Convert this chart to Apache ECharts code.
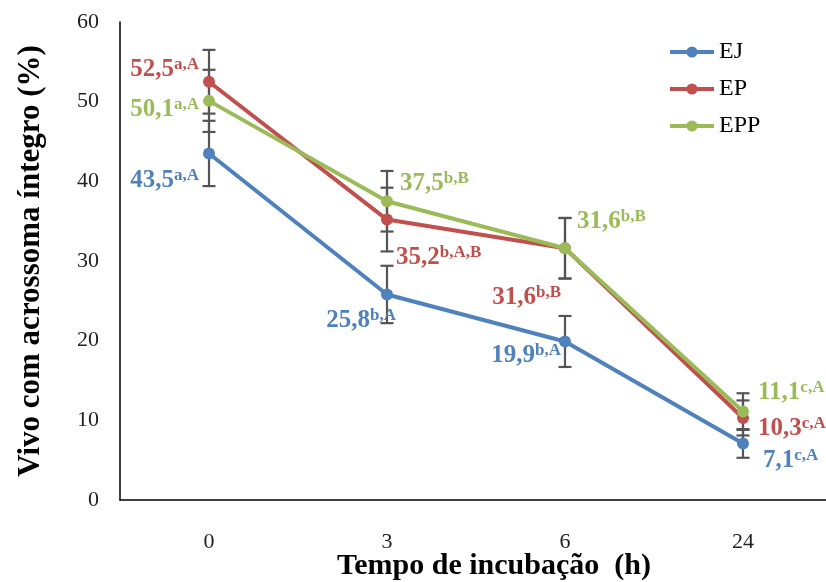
<!DOCTYPE html>
<html>
<head>
<meta charset="utf-8">
<script src="https://cdn.jsdelivr.net/npm/echarts@6/dist/echarts.min.js"></script>
<style>html,body{margin:0;padding:0;background:#fff}#c{width:826px;height:582px}</style>
</head>
<body>
<div id="c"></div>
<script>
var categories = ['0', '3', '6', '24'];
var yTicks = [0, 10, 20, 30, 40, 50, 60];
var ejValues = [43.5, 25.8, 19.9, 7.1];
var ejErrors = [4.1, 3.6, 3.2, 1.8];
var ejSup = ['a,A', 'b,A', 'b,A', 'c,A'];
var epValues = [52.5, 35.2, 31.6, 10.3];
var epErrors = [4.0, 4.0, 3.8, 2.2];
var epSup = ['a,A', 'b,A,B', 'b,B', 'c,A'];
var eppValues = [50.1, 37.5, 31.6, 11.1];
var eppErrors = [3.9, 3.8, 3.8, 2.3];
var eppSup = ['a,A', 'b,B', 'b,B', 'c,A'];

var FONT = '"Liberation Serif", "Times New Roman", serif';
var colors = { EJ: '#4F81BD', EP: '#C0504D', EPP: '#9BBB59' };

// label placement (layout only): [position, dx, dy]
var labelPlace = {
  EJ:  [['left', -1, 27], ['left', 18, 26], ['left', 5, 14], ['right', 11, 17]],
  EP:  [['left', -1, -12], ['right', 0, 38], ['left', 5, 49], ['right', 6, 11]],
  EPP: [['left', -1, 9], ['right', 4, -18], ['right', 3, -27], ['right', 6, -19]]
};

function fmt(v) { return v.toFixed(1).replace('.', ','); }

function makeData(name, values, sups) {
  return values.map(function (v, i) {
    var l = labelPlace[name][i];
    return {
      value: v,
      label: {
        show: true,
        position: l[0],
        distance: 3,
        formatter: '{v|' + fmt(v) + '}{s|' + sups[i] + '}',
        rich: {
          v: { fontFamily: FONT, fontSize: 25, fontWeight: 'bold', color: colors[name], lineHeight: 27 },
          s: { fontFamily: FONT, fontSize: 17, fontWeight: 'bold', color: colors[name], verticalAlign: 'top', lineHeight: 27 }
        }
      }
    };
  });
}

function errorSeries(name, values, errors) {
  return {
    type: 'custom',
    name: name + '_err',
    z: 1,
    silent: true,
    data: values.map(function (v, i) { return [i, v - errors[i], v + errors[i]]; }),
    encode: { x: 0, y: [1, 2] },
    renderItem: function (params, api) {
      var x = api.value(0);
      var lo = api.coord([x, api.value(1)]);
      var hi = api.coord([x, api.value(2)]);
      var w = 6.5;
      var style = { stroke: '#555555', lineWidth: 2.2, fill: null };
      return {
        type: 'group',
        children: [
          { type: 'line', shape: { x1: lo[0], y1: lo[1], x2: hi[0], y2: hi[1] }, style: style },
          { type: 'line', shape: { x1: lo[0] - w, y1: lo[1], x2: lo[0] + w, y2: lo[1] }, style: style },
          { type: 'line', shape: { x1: hi[0] - w, y1: hi[1], x2: hi[0] + w, y2: hi[1] }, style: style }
        ]
      };
    }
  };
}

function lineSeries(name, values, sups, z) {
  return {
    type: 'line',
    name: name,
    z: z,
    data: makeData(name, values, sups),
    symbol: 'circle',
    symbolSize: 12,
    lineStyle: { width: 4, color: colors[name] },
    itemStyle: { color: colors[name] },
    labelLayout: function (p) {
      var l = labelPlace[name][p.dataIndex];
      return { dx: l[1], dy: l[2], hideOverlap: false };
    }
  };
}

var chart = echarts.init(document.getElementById('c'), null, { renderer: 'canvas' });
chart.setOption({
  animation: false,
  backgroundColor: '#fff',
  grid: { left: 120, right: -6, top: 22, bottom: 82, containLabel: false, outerBoundsMode: 'none' },
  legend: {
    data: ['EJ', 'EP', 'EPP'],
    orient: 'vertical',
    left: 663,
    top: 35,
    itemWidth: 44,
    itemHeight: 14,
    itemGap: 13,
    lineStyle: { width: 4 },
    textStyle: { fontFamily: FONT, fontSize: 24, color: '#000' }
  },
  xAxis: {
    type: 'category',
    data: categories,
    boundaryGap: true,
    axisLine: { lineStyle: { color: '#000', width: 1.5 } },
    axisTick: { show: false },
    axisLabel: { fontFamily: FONT, fontSize: 22, color: '#222', margin: 31 },
    name: 'Tempo de incubação  (h)',
    nameLocation: 'middle',
    nameGap: 51,
    nameMoveOverlap: false,
    nameTextStyle: { fontFamily: FONT, fontSize: 30, fontWeight: 'bold', color: '#000', padding: [0, 0, 0, 36] }
  },
  yAxis: {
    type: 'value',
    min: 0,
    max: 60,
    interval: 10,
    splitLine: { show: false },
    axisLine: { show: true, lineStyle: { color: '#000', width: 1.5 } },
    axisTick: { show: false },
    axisLabel: {
      fontFamily: FONT, fontSize: 22, color: '#222', margin: 21,
      formatter: function (v) { return yTicks.indexOf(v) >= 0 ? String(v) : ''; }
    },
    name: 'Vivo com acrossoma íntegro (%)',
    nameLocation: 'middle',
    nameGap: 74,
    nameMoveOverlap: false,
    nameTextStyle: { fontFamily: FONT, fontSize: 31, fontWeight: 'bold', color: '#000' }
  },
  series: [
    errorSeries('EJ', ejValues, ejErrors),
    errorSeries('EP', epValues, epErrors),
    errorSeries('EPP', eppValues, eppErrors),
    lineSeries('EJ', ejValues, ejSup, 3),
    lineSeries('EP', epValues, epSup, 4),
    lineSeries('EPP', eppValues, eppSup, 5)
  ]
});
</script>
</body>
</html>
